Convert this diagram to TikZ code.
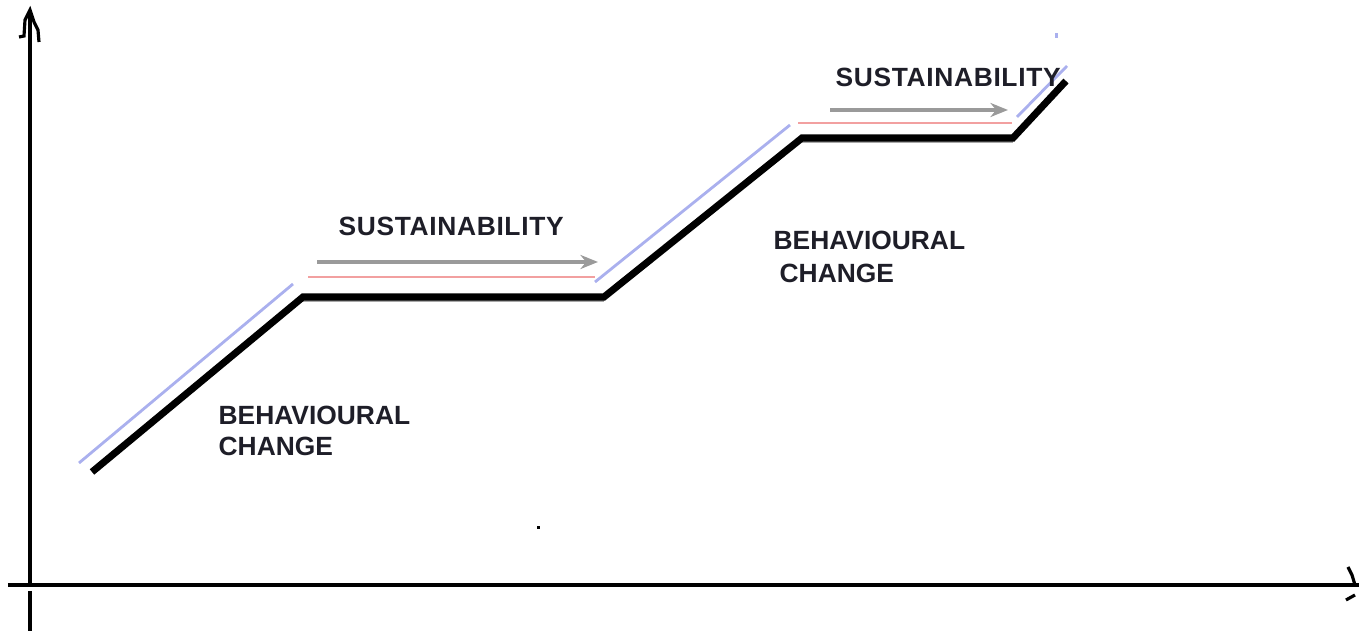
\documentclass[tikz,border=0pt]{standalone}
\usepackage{fontspec}
\setmainfont{Liberation Sans}
\usetikzlibrary{arrows.meta}
\definecolor{stepblue}{HTML}{AAB0EE}
\definecolor{steppink}{HTML}{F2A0A0}
\definecolor{arrowgray}{HTML}{9A9A9A}
\definecolor{shadowgray}{HTML}{A8A8A8}
\definecolor{labelink}{HTML}{1E1E28}
\begin{document}
\begin{tikzpicture}[x=0.01cm,y=-0.01cm,
  axis/.style={line width=1.1pt,black},
  stairs/.style={line width=2pt,black,line join=miter},
  stairshadow/.style={line width=1.6pt,shadowgray},
  rise/.style={line width=0.8pt,stepblue},
  tread/.style={line width=0.8pt,steppink},
  flow/.style={line width=1.1pt,arrowgray,-{Stealth[length=5pt,width=4pt]}},
  lbl/.style={inner sep=0pt,anchor=base west,text=labelink,
    font=\fontsize{7.5pt}{9pt}\selectfont\bfseries},
  widelbl/.style={lbl,font=\fontsize{7.5pt}{9pt}\selectfont\bfseries\addfontfeatures{LetterSpace=2.5}}]
\useasboundingbox (0,0) rectangle (1359,631);

% axes
\draw[axis] (30,12) -- (30,586);
\draw[axis] (30,591) -- (30,631);
\draw[axis] (8,585) -- (1359,585);
\draw[line width=0.9pt] (19,37) -- (24,36) -- (25,20) -- (30,10) -- (34,22) -- (38,30) -- (39,42);
\draw[line width=0.9pt] (1348,567) -- (1352,575) -- (1355,585);
\draw[line width=0.9pt] (1346,600) -- (1355,595);

% staircase corners
\coordinate (s0) at (92,472);
\coordinate (s1) at (303,297);
\coordinate (s2) at (604,297);
\coordinate (s3) at (802,138);
\coordinate (s4) at (1013,138);
\coordinate (s5) at (1066,81);

\draw[stairshadow] ([yshift=-0.7pt]s1) -- ([yshift=-0.7pt]s2);
\draw[stairshadow] ([yshift=-0.7pt]s3) -- ([yshift=-0.7pt]s4);
\draw[stairs] (s0) -- (s1) -- (s2) -- (s3) -- (s4) -- (s5);

% light guide lines along the rises and treads
\draw[rise] (79,463) -- (293,284);
\draw[rise] (595,282) -- (790,125);
\draw[rise] (1017,117) -- (1067,66);
\draw[tread] (308,277) -- (595,277);
\draw[tread] (798,123) -- (1012,123);

% direction arrows over the treads
\coordinate (a1s) at (317,262);
\coordinate (a1e) at (598,262);
\coordinate (a2s) at (830,110);
\coordinate (a2e) at (1008,110);
\draw[flow] (a1s) -- (a1e);
\draw[flow] (a2s) -- (a2e);

% labels
\node[widelbl] (sus1) at (338,236) {SUSTAINABILITY};
\node[widelbl] (sus2) at (835,87) {SUSTAINABILITY};
\node[lbl] (beh1) at (218,425) {BEHAVIOURAL};
\node[lbl] (chg1) at (218,456) {CHANGE};
\node[lbl] (beh2) at (773,250) {BEHAVIOURAL};
\node[lbl] (chg2) at (779,283) {CHANGE};

% specks
\fill[black] (537,526) rectangle (540,529);
\fill[stepblue] (1055,33) rectangle (1058,38);
\end{tikzpicture}
\end{document}
